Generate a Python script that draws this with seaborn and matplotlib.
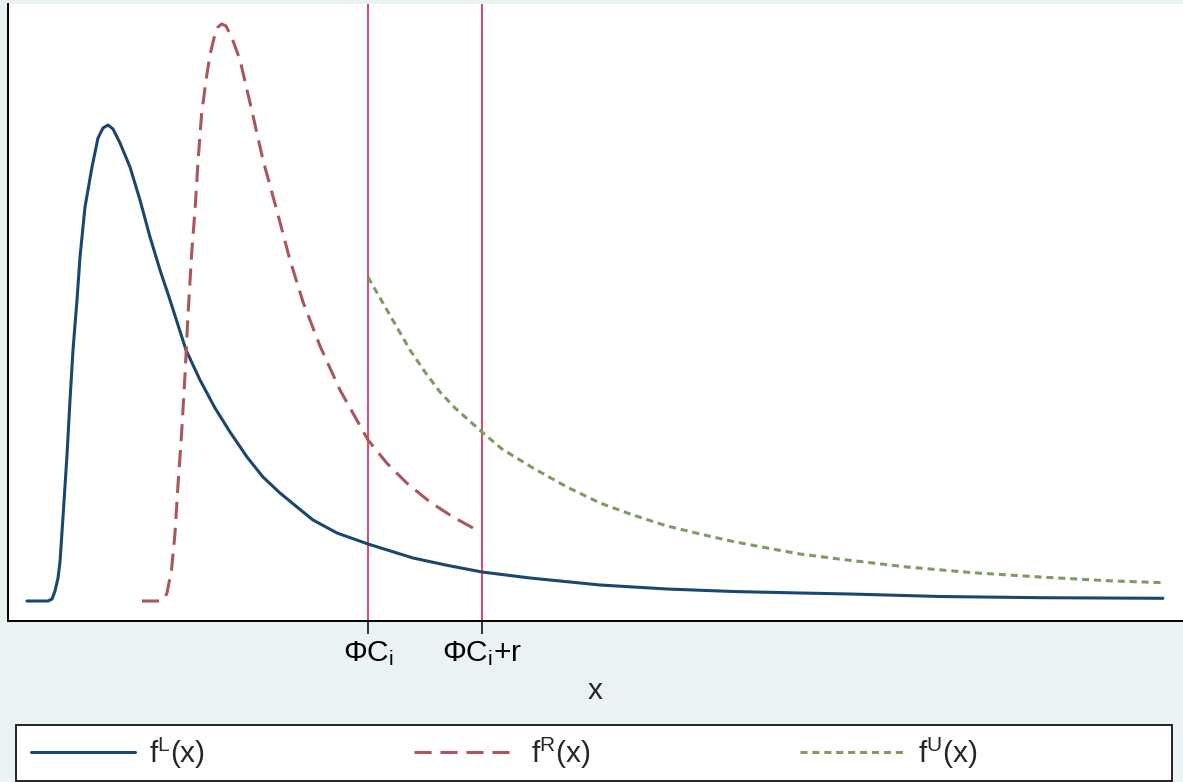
"""
Densities f^L, f^R, f^U with the two thresholds PhiC_i and PhiC_i+r
"""

import numpy as np
import pandas as pd
import matplotlib
matplotlib.use('Agg')
import matplotlib.pyplot as plt
import seaborn as sns
from matplotlib.lines import Line2D
from matplotlib.patches import Rectangle

# data (arbitrary density units)
x_left = [19, 40, 44, 47, 50, 52, 55, 59, 62, 65, 69, 72, 77, 84, 90, 95, 100,
          105, 112, 122, 132, 142, 152, 162, 178, 192, 207, 222, 239, 255, 272,
          289, 305, 329, 360, 405, 440, 474, 522, 592, 659, 725, 792, 842, 932,
          1032, 1155]
f_left = [20, 20, 22, 30, 43, 59, 104, 166, 221, 271, 321, 364, 414, 454, 483,
          493, 496, 492, 478, 454, 421, 384, 351, 321, 271, 241, 213, 189, 164,
          144, 128, 114, 101, 88, 77, 63, 55.5, 49, 43, 36, 32, 29.5, 28, 27,
          24.5, 23.3, 22.7]

x_right = [134, 152, 156, 159, 163.5, 167, 170, 173.5, 177, 180, 183.7, 187,
           190, 193.5, 198, 202, 206, 210, 213.7, 218, 224, 232, 243.7, 255,
           268.7, 282, 295, 312, 332, 360, 378.7, 398.7, 422, 445, 468.7]
f_right = [20, 20, 22, 28, 51, 88, 136, 186, 246, 306, 368, 411, 459, 506, 541,
           566, 583, 594, 597, 595, 583, 561, 511, 461, 411, 361, 319, 275, 231,
           181, 158, 138, 119, 104, 91]

x_upper = [360, 372, 387, 402, 417, 432, 447, 474, 494, 525, 559, 592, 625, 659,
           692, 725, 759, 792, 835, 899, 965, 1032, 1099, 1155]
f_upper = [344, 323, 297, 271, 249, 229, 213, 189, 172, 153, 134, 118, 106, 95,
           87, 79.5, 73, 67, 61.5, 54, 48.3, 44, 40.3, 38.3]

thresholds = [360, 474]
threshold_labels = [r'$\mathregular{\Phi C_i}$', r'$\mathregular{\Phi C_i{+}r}$']
curve_names = [r'$\mathregular{f^L(x)}$', r'$\mathregular{f^R(x)}$', r'$\mathregular{f^U(x)}$']

sns.set_style('white')
plt.rcParams['font.family'] = ['Liberation Sans', 'DejaVu Sans']
plt.rcParams['mathtext.fontset'] = 'custom'
plt.rcParams['mathtext.rm'] = 'Liberation Sans'
plt.rcParams['mathtext.it'] = 'Liberation Sans:italic'

COLORS = {
    'L': '#1a476f',
    'R': '#a9565c',
    'U': '#7f9a62',
    'vline': '#cf2b55',
    'bg': '#eaf2f3',
}
LW = 2.2
DASHES = {'L': '', 'R': (5.6, 2.9), 'U': (2.3, 1.6)}
FS = 21.5

df = pd.concat([
    pd.DataFrame({'x': x_left, 'y': f_left, 'curve': 'L'}),
    pd.DataFrame({'x': x_right, 'y': f_right, 'curve': 'R'}),
    pd.DataFrame({'x': x_upper, 'y': f_upper, 'curve': 'U'}),
], ignore_index=True)

fig = plt.figure(figsize=(11.83, 7.82), dpi=100, facecolor=COLORS['bg'])
ax = fig.add_axes([8 / 1183, 161 / 782, 1175 / 1183, 617 / 782])
ax.set_facecolor('white')

sns.lineplot(data=df, x='x', y='y', hue='curve', style='curve',
             palette={k: COLORS[k] for k in 'LRU'}, dashes=DASHES,
             sort=False, estimator=None, linewidth=LW, legend=False, ax=ax)

for xv in thresholds:
    ax.axvline(xv, color=COLORS['vline'], linewidth=1.2, zorder=1)

ax.set_xlim(0, 1175)
ax.set_ylim(0, 617)
ax.set_yticks([])
ax.set_ylabel('')
ax.set_xticks(thresholds)
ax.set_xticklabels(threshold_labels, fontsize=FS)
ax.tick_params(axis='x', length=9.4, width=1.1, color='black', pad=4,
               bottom=True, labelcolor='black')
ax.set_xlabel('x', fontsize=FS, labelpad=6)

for side in ['top', 'right']:
    ax.spines[side].set_visible(False)
for side in ['left', 'bottom']:
    ax.spines[side].set_color('black')
    ax.spines[side].set_linewidth(1.4)

# legend box along the bottom
fig.add_artist(Rectangle((16 / 1183, 1 / 782), 1156 / 1183, 56 / 782,
                         transform=fig.transFigure, facecolor='white',
                         edgecolor='black', linewidth=1.2, zorder=0))
handles = [
    Line2D([0], [0], color=COLORS['L'], linewidth=LW),
    Line2D([0], [0], color=COLORS['R'], linewidth=LW, linestyle=(0, DASHES['R'])),
    Line2D([0], [0], color=COLORS['U'], linewidth=LW, linestyle=(0, DASHES['U'])),
]
fig.legend(handles, curve_names, ncol=3, frameon=False, fontsize=FS,
           loc='center left', bbox_to_anchor=(31 / 1183, 29 / 782),
           borderpad=0, borderaxespad=0, handlelength=3.47,
           handletextpad=0.47, columnspacing=7.0)

fig.savefig('out.png', dpi=100, facecolor=COLORS['bg'])
plt.close(fig)
